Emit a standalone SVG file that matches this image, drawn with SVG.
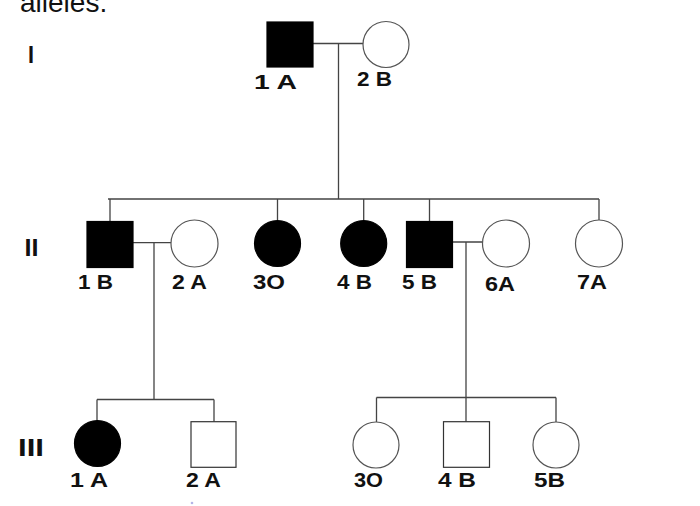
<svg xmlns="http://www.w3.org/2000/svg" width="700" height="506" viewBox="0 0 700 506">
<style>
.ln{stroke:#444;stroke-width:1.3;fill:none}
.f{fill:#000;stroke:#000;stroke-width:1.2}
.o{fill:#fff;stroke:#555;stroke-width:1.2}
.lb{font-family:"Liberation Sans",Arial,sans-serif;font-weight:bold;font-size:19.5px;fill:#111}
.gen{font-family:"Liberation Sans",Arial,sans-serif;font-weight:bold;font-size:24px;fill:#111}
.cap{font-family:"Liberation Sans",Arial,sans-serif;font-size:28px;fill:#111}
</style>
<rect width="700" height="506" fill="#fff"/>
<text class="cap" x="20" y="12">alleles.</text>
<text class="gen" x="28" y="63" textLength="6" lengthAdjust="spacingAndGlyphs">I</text>
<text class="gen" x="24.5" y="256" textLength="14" lengthAdjust="spacingAndGlyphs">II</text>
<text class="gen" x="18" y="456" textLength="26" lengthAdjust="spacingAndGlyphs">III</text>
<g id="connectors">
<path class="ln" d="M313 43.5H363M338.5 43.5V199"/>
<path class="ln" d="M108 199H599M110 199V221.5M277.5 199V220M363.7 199V220M429.5 199V221.5M599 199V220"/>
<path class="ln" d="M133 242.7H171M154 242.7V399.5"/>
<path class="ln" d="M452.5 242H482.5M466 242V421.7"/>
<path class="ln" d="M97 399.5H214M97 399.5V421M214 399.5V421.7"/>
<path class="ln" d="M376.5 397.5H556M376.5 397.5V422M556 397.5V422"/>
</g>
<g id="I-1"><rect class="f" x="267" y="22" width="46" height="45"/><text class="lb" x="254" y="88.5" textLength="43" lengthAdjust="spacingAndGlyphs">1  A</text></g>
<g id="I-2"><circle class="o" cx="386" cy="44.5" r="23"/><text class="lb" x="357" y="86" textLength="35" lengthAdjust="spacingAndGlyphs">2 B</text></g>
<g id="II-1"><rect class="f" x="87" y="221.5" width="46" height="46"/><text class="lb" x="78" y="288.5" textLength="35" lengthAdjust="spacingAndGlyphs">1 B</text></g>
<g id="II-2"><circle class="o" cx="194.5" cy="243.5" r="23.5"/><text class="lb" x="172" y="288.5" textLength="35" lengthAdjust="spacingAndGlyphs">2 A</text></g>
<g id="II-3"><circle class="f" cx="277.5" cy="243.5" r="23"/><text class="lb" x="253" y="288.5" textLength="32" lengthAdjust="spacingAndGlyphs">3O</text></g>
<g id="II-4"><circle class="f" cx="363.7" cy="243.5" r="23"/><text class="lb" x="337" y="288.5" textLength="35" lengthAdjust="spacingAndGlyphs">4 B</text></g>
<g id="II-5"><rect class="f" x="406.5" y="221.5" width="46" height="46"/><text class="lb" x="402" y="288.5" textLength="35" lengthAdjust="spacingAndGlyphs">5 B</text></g>
<g id="II-6"><circle class="o" cx="506" cy="243.5" r="23.5"/><text class="lb" x="485" y="290.5" textLength="30" lengthAdjust="spacingAndGlyphs">6A</text></g>
<g id="II-7"><circle class="o" cx="599" cy="243.5" r="23.5"/><text class="lb" x="577" y="288.5" textLength="30" lengthAdjust="spacingAndGlyphs">7A</text></g>
<g id="III-1"><circle class="f" cx="97.5" cy="443.5" r="23"/><text class="lb" x="70" y="487" textLength="38" lengthAdjust="spacingAndGlyphs">1 A</text></g>
<g id="III-2"><rect x="191" y="421.7" width="45" height="45.6" fill="#fff" stroke="#333" stroke-width="1.2"/><text class="lb" x="186" y="486.5" textLength="35" lengthAdjust="spacingAndGlyphs">2 A</text></g>
<g id="III-3"><circle class="o" cx="376" cy="445" r="23"/><text class="lb" x="354" y="486.5" textLength="29" lengthAdjust="spacingAndGlyphs">3O</text></g>
<g id="III-4"><rect x="443.5" y="421.7" width="46" height="45.6" fill="#fff" stroke="#333" stroke-width="1.2"/><text class="lb" x="438" y="486.5" textLength="38" lengthAdjust="spacingAndGlyphs">4 B</text></g>
<g id="III-5"><circle class="o" cx="556" cy="445" r="23"/><text class="lb" x="534" y="487" textLength="31" lengthAdjust="spacingAndGlyphs">5B</text></g>
<circle cx="192" cy="503" r="1.3" fill="#b4b4e6"/>
</svg>
